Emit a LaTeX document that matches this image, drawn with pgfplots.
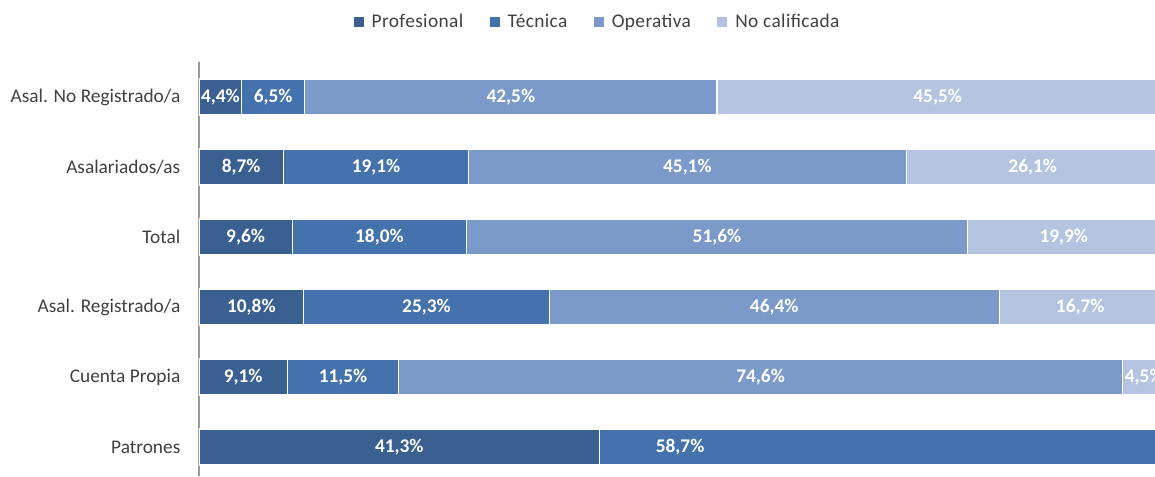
\documentclass[border=0pt]{standalone}
\usepackage{pgfplots}
\pgfplotsset{compat=1.18}
\usepackage{fontspec}
\setmainfont{Carlito}

\definecolor{prof}{RGB}{58,96,145}
\definecolor{tecn}{RGB}{68,114,173}
\definecolor{oper}{RGB}{123,154,201}
\definecolor{nocal}{RGB}{180,196,224}
\definecolor{txt}{RGB}{64,64,64}

\begin{document}
\begin{tikzpicture}
\begin{axis}[
  at={(0,0)}, anchor=south west,
  scale only axis, width=717pt, height=310.5pt,
  xbar stacked, bar width=27pt,
  xmin=0, xmax=98.56,
  ymin=-0.5, ymax=5.414, y dir=reverse,
  axis x line=none, axis y line*=left,
  axis line style={draw=black!40, line width=0.8pt},
  ytick={0,...,5},
  yticklabels={Asal. No Registrado/a, Asalariados/as, Total, Asal. Registrado/a, Cuenta Propia, Patrones},
  major tick length=0pt,
  yticklabel style={font=\fontsize{14.5}{16}\selectfont, text=txt, xshift=-10.5pt},
  every axis plot post/.append style={
    legend image code/.code={\path (0pt,0pt) rectangle (11pt,0pt);
      \fill[##1,draw=none] (0pt,-3.75pt) rectangle (7.5pt,3.75pt);}},
  legend style={at={(axis description cs:0.417,1.0966)}, anchor=center,
    draw=none, fill=none, legend columns=4,
    font=\fontsize{14.5}{16}\selectfont\addfontfeature{LetterSpace=2}, text=txt,
    /tikz/every even column/.append style={column sep=17.5pt}},
]
\addplot[fill=prof, draw=white, line width=0.8pt] coordinates {
  (4.4,0) (8.7,1) (9.6,2) (10.8,3) (9.1,4) (41.3,5)};
\addplot[fill=tecn, draw=white, line width=0.8pt] coordinates {
  (6.5,0) (19.1,1) (18.0,2) (25.3,3) (11.5,4) (58.7,5)};
\addplot[fill=oper, draw=white, line width=0.8pt] coordinates {
  (42.5,0) (45.1,1) (51.6,2) (46.4,3) (74.6,4) (0,5)};
\addplot[fill=nocal, draw=white, line width=0.8pt] coordinates {
  (45.5,0) (26.1,1) (19.9,2) (16.7,3) (4.5,4) (0,5)};
\legend{Profesional, Técnica, Operativa, No calificada}
\end{axis}
% value labels, centred in each segment
\begin{axis}[
  at={(0,0)}, anchor=south west,
  scale only axis, width=717pt, height=310.5pt,
  xmin=0, xmax=98.56,
  ymin=-0.5, ymax=5.414, y dir=reverse,
  hide axis, clip=false,
]
\addplot[only marks, mark=none, point meta=explicit symbolic,
  nodes near coords={\pgfplotspointmeta\%},
  nodes near coords style={anchor=center, text=white,
    font=\bfseries\fontsize{14.5}{16}\selectfont}]
coordinates {
  (2.2,0) [4,4] (7.65,0) [6,5] (32.15,0) [42,5] (76.15,0) [45,5]
  (4.35,1) [8,7] (18.25,1) [19,1] (50.35,1) [45,1] (85.95,1) [26,1]
  (4.8,2) [9,6] (18.6,2) [18,0] (53.4,2) [51,6] (89.15,2) [19,9]
  (5.4,3) [10,8] (23.45,3) [25,3] (59.3,3) [46,4] (90.85,3) [16,7]
  (4.55,4) [9,1] (14.85,4) [11,5] (57.9,4) [74,6] (97.45,4) [4,5]
  (20.65,5) [41,3] (49.6,5) [58,7]
};
\end{axis}
\pgfresetboundingbox
\path[use as bounding box] (-149.25pt,0pt) rectangle (717pt,357pt);
\end{tikzpicture}
\end{document}
